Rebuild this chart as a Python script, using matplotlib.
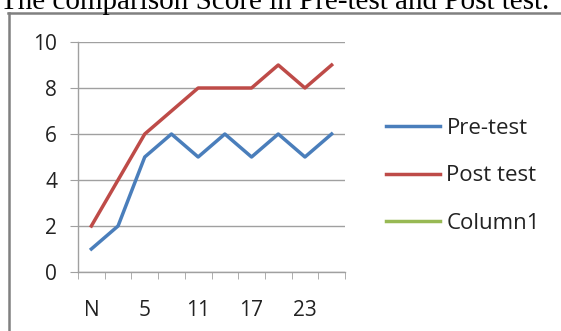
import matplotlib.pyplot as plt
from matplotlib.lines import Line2D

# Score data for each test point
categories = ['N', '2', '5', '8', '11', '14', '17', '20', '23', '26']
pre_test = [1, 2, 5, 6, 5, 6, 5, 6, 5, 6]
post_test = [2, 4, 6, 7, 8, 8, 8, 9, 8, 9]
column1 = []

fig = plt.figure(figsize=(5.61, 3.31), dpi=100)
ax = fig.add_axes([78 / 561, 1 - 272 / 331, (345 - 78) / 561, (272 - 42) / 331])

x = list(range(len(categories)))
ax.plot(x, pre_test, color='#4A7EBB', lw=2.5, label='Pre-test')
ax.plot(x, post_test, color='#BE4B48', lw=2.5, label='Post test')
ax.plot(column1, column1, color='#98B954', lw=2.5, label='Column1')

ax.set_xlim(-0.5, len(categories) - 0.5)
ax.set_ylim(0, 10)
ax.set_yticks(range(0, 11, 2))
ax.yaxis.grid(True, color='#a0a0a0', lw=1)
ax.set_axisbelow(True)

# only every other category label is shown
ax.set_xticks(x[::2])
ax.set_xticklabels(categories[::2])
ax.set_xticks([i - 0.5 for i in range(len(categories) + 1)], minor=True)
ax.tick_params(axis='x', which='major', length=0, pad=20)
ax.tick_params(axis='x', which='minor', length=5, color='#a0a0a0', direction='out')
ax.tick_params(axis='y', length=6, color='#a0a0a0', pad=9)
for lbl in ax.get_xticklabels() + ax.get_yticklabels():
    lbl.set_fontfamily('Open Sans')
    lbl.set_fontsize(15)
    lbl.set_color('#222222')

for side in ['top', 'right']:
    ax.spines[side].set_visible(False)
for side in ['left', 'bottom']:
    ax.spines[side].set_color('#a0a0a0')
    ax.spines[side].set_linewidth(1)

leg = ax.legend(loc='center left', bbox_to_anchor=(386 / 561, 1 - 176 / 331),
                bbox_transform=fig.transFigure, frameon=False,
                handlelength=2.45, handletextpad=0.27, labelspacing=1.2,
                borderpad=0, borderaxespad=0,
                prop={'family': 'Open Sans', 'size': 16})
for t in leg.get_texts():
    t.set_color('#222222')

# chart border (top and left edges)
fig.add_artist(Line2D([8 / 561, 1], [1 - 13 / 331, 1 - 13 / 331], color='#808080', lw=1.8))
fig.add_artist(Line2D([9 / 561, 9 / 561], [0, 1 - 13 / 331], color='#808080', lw=1.8))

fig.text(0, 1 - 9 / 331, 'The comparison Score in Pre-test and Post test.',
         family='Liberation Serif', fontsize=21, ha='left', va='baseline', color='black')

fig.savefig('out.png', dpi=100)
